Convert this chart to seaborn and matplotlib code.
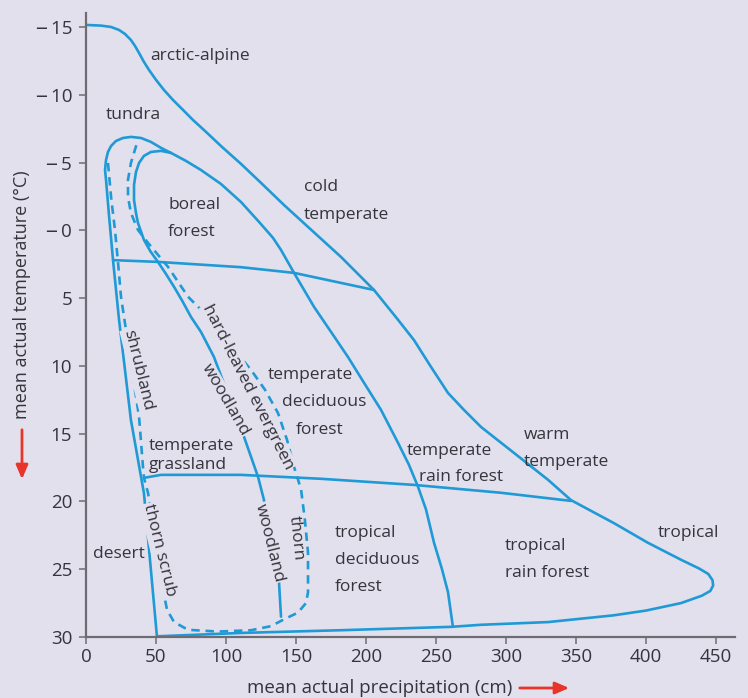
import matplotlib
matplotlib.use("Agg")
import matplotlib.pyplot as plt
import seaborn as sns
import pandas as pd

# ---------------- data ----------------
outer_x = [0, 10.7, 17.9, 23.6, 27.9, 32.1, 35, 37.9, 41.4, 45, 50, 55.7, 62.1, 69.3, 76.4,
           85, 96.4, 110.7, 125, 141.4, 158.6, 182.1, 205.7, 222.9, 234.3, 246.4, 258.6,
           270, 282.1, 305.7, 330, 346.4, 377.1, 401.4, 425, 438, 444.5, 447.5, 448, 446,
           440, 425, 400, 377, 330, 282, 261, 182, 111, 50.7]
outer_y = [-15.15, -15.1, -15.0, -14.78, -14.48, -14.04, -13.6, -13.08, -12.42, -11.83,
           -11.1, -10.35, -9.62, -8.88, -8.14, -7.33, -6.22, -4.9, -3.5, -1.87, -0.25, 1.96,
           4.4, 6.6, 8.1, 10.07, 12.0, 13.25, 14.5, 16.42, 18.4, 19.9, 21.6, 23.05, 24.3,
           24.95, 25.35, 25.8, 26.2, 26.6, 26.95, 27.5, 28.05, 28.4, 28.9, 29.1, 29.25, 29.5,
           29.7, 29.95]

tundra_x = [50.7, 41.4, 32.1, 23.6, 19.3, 16.4, 14.3, 13.6, 14.3, 15.7, 17.9, 21.4, 26.4,
            32.1, 39.3, 46.4, 53.6, 60.7, 71.4, 82.1, 96.4, 110.7, 123.6, 133.6, 139.3,
            148.6, 162.9, 175, 187.1, 198.6, 210.7, 222.9, 230.7, 237.1, 242.9, 248.6,
            254.3, 258.6, 262.1]
tundra_y = [30.0, 19.4, 14.0, 6.6, 2.2, -1.14, -3.72, -4.45, -5.19, -5.78, -6.22, -6.59,
            -6.81, -6.89, -6.81, -6.52, -6.08, -5.71, -5.12, -4.45, -3.42, -2.09, -0.62,
            0.56, 1.45, 3.14, 5.65, 7.49, 9.34, 11.25, 13.24, 15.68, 17.3, 18.9, 20.6, 23.05,
            25.0, 26.7, 29.25]

boreal_x = [60.7, 53.6, 46.4, 41.4, 37.9, 35.7, 34.3, 34.3, 35.7, 37.1, 41.4, 46, 51.4,
            57, 62.9, 69, 75, 82.1, 91.4, 102.1, 112.9, 122.9, 127.1, 132.1, 137.9, 139.3]
boreal_y = [-5.71, -5.86, -5.78, -5.49, -4.97, -4.3, -3.35, -2.24, -1.28, -0.55, 0.71,
            1.55, 2.33, 3.2, 4.17, 5.25, 6.39, 7.49, 9.34, 12.29, 15.24, 18.19, 19.88, 22.83,
            26.0, 28.5]

dashed_x = [15.7, 17.9, 20.7, 22.9, 25, 30.7, 35, 37.9, 40.7, 41.4, 44.3, 48.6, 52.1, 55,
            57.9, 62.9, 72.9, 94.3, 117.9, 132.1, 141.4, 151.4, 157.1, 158.6, 158.6, 156.4,
            153.6, 148.6, 143.6, 137.1, 127.9, 117.9, 100, 84.3, 72.9, 58.6, 44.3, 37.1,
            32.1, 30, 30, 32.1, 37.1]
dashed_y = [-4.97, -2.46, -0.03, 2.4, 4.9, 8.82, 11.77, 13.76, 17.45, 18.26, 19.37, 22.1,
            24.7, 26.5, 28.0, 28.9, 29.47, 29.6, 29.5, 29.2, 28.7, 28.2, 27.5, 26.7, 23.8,
            21.4, 19.1, 17.45, 15.46, 13.47, 11.77, 10.3, 8.08, 6.09, 4.9, 2.7, 0.93, -0.03,
            -1.28, -2.46, -3.72, -4.97, -6.67]

cold_x = [19.3, 51.4, 110.7, 148.6, 205.7]
cold_y = [2.2, 2.33, 2.72, 3.14, 4.4]

warm_x = [41.4, 53.6, 110.7, 167.9, 234.3, 296.4, 346.4]
warm_y = [18.26, 18.04, 18.04, 18.33, 18.78, 19.36, 19.96]

xticks = [0, 50, 100, 150, 200, 250, 300, 350, 400, 450]
yticks = [-15, -10, -5, 0, 5, 10, 15, 20, 25, 30]
ytick_labels = ["\u2012\u200915", "\u2012\u200910", "\u2012\u20095", "\u2012\u20090",
                "5", "10", "15", "20", "25", "30"]

# ---------------- style ----------------
BG = "#e2e0ec"
LINE = "#1f9ad6"
TXT = "#35343c"
AX = "#6d6c74"
RED = "#e8352b"

sns.set_theme(style="ticks")
plt.rcParams["font.family"] = ["Open Sans", "DejaVu Sans"]

fig = plt.figure(figsize=(7.48, 6.98), dpi=100, facecolor=BG)
ax = fig.add_axes([86 / 748, 61 / 698, 649 / 748, 624 / 698], facecolor=BG)


def draw(xs, ys, dashed=False):
    df = pd.DataFrame({"x": xs, "y": ys})
    sns.lineplot(data=df, x="x", y="y", sort=False, estimator=None, ax=ax,
                 color=LINE, lw=1.9, solid_capstyle="round", solid_joinstyle="round")
    ln = ax.lines[-1]
    if dashed:
        ln.set_dashes([3.2, 2.2])


draw(outer_x, outer_y)
draw(tundra_x, tundra_y)
draw(boreal_x, boreal_y)
draw(cold_x, cold_y)
draw(warm_x, warm_y)
draw(dashed_x, dashed_y, dashed=True)

ax.set_xlim(0, 463.6)
ax.set_ylim(30, -16.03)
ax.set_xticks(xticks)
ax.set_xticklabels([str(v) for v in xticks])
ax.set_yticks(yticks)
ax.set_yticklabels(ytick_labels)
for s in ["top", "right"]:
    ax.spines[s].set_visible(False)
for s in ["left", "bottom"]:
    ax.spines[s].set_color(AX)
    ax.spines[s].set_linewidth(1.6)
ax.tick_params(axis="both", direction="out", length=5, width=1.1, color=AX,
               labelsize=13.5, labelcolor=TXT)
ax.tick_params(axis="y", pad=5)
ax.tick_params(axis="x", pad=3)

ax.set_xlabel("mean actual precipitation (cm)", fontsize=13.5, color=TXT, va="center")
ax.set_ylabel("mean actual temperature (°C)", fontsize=13, color=TXT, va="center")
ax.xaxis.set_label_coords((380 - 86) / 649, (637 - 688) / 624)
ax.yaxis.set_label_coords((22 - 86) / 649, (637 - 295) / 624)

# red arrows
arrow = dict(arrowstyle="-|>,head_length=0.7,head_width=0.3", color=RED, lw=2)
ax.annotate("", xy=(572 / 748, 1 - 688 / 698), xytext=(517 / 748, 1 - 688 / 698),
            xycoords="figure fraction", textcoords="figure fraction", arrowprops=arrow)
ax.annotate("", xy=(22 / 748, 1 - 482 / 698), xytext=(22 / 748, 1 - 427 / 698),
            xycoords="figure fraction", textcoords="figure fraction", arrowprops=arrow)

FS = 12.5
box = dict(facecolor=BG, edgecolor="none", pad=0.5)


def lab(x, y, s, ha="left", rot=0, bbox=None):
    ax.text(x, y, s, ha=ha, va="center", fontsize=FS, color=TXT, rotation=rot,
            rotation_mode="anchor" if rot else "default", bbox=bbox)


lab(81.4, -12.86, "arctic-alpine", ha="center")
lab(33.6, -8.5, "tundra", ha="center")
lab(58.6, -1.87, "boreal")
lab(58.6, 0.12, "forest")
lab(155.7, -3.2, "cold")
lab(155.7, -1.14, "temperate")
lab(115.7, 11.55, "hard-leaved evergreen", ha="center", rot=-63, bbox=box)
lab(99.3, 12.5, "woodland", ha="center", rot=-60, bbox=box)
lab(37.1, 10.3, "shrubland", ha="center", rot=-76, bbox=box)
lab(45, 15.9, "temperate")
lab(45, 17.3, "grassland")
lab(52.1, 23.57, "thorn scrub", ha="center", rot=-76, bbox=box)
lab(23.6, 23.86, "desert", ha="center")
lab(130.7, 23.05, "woodland", ha="center", rot=-76, bbox=box)
lab(150, 22.7, "thorn", ha="center", rot=-84)
lab(160, 10.66, "temperate", ha="center")
lab(170, 12.65, "deciduous", ha="center")
lab(167.1, 14.7, "forest", ha="center")
lab(259.3, 16.27, "temperate", ha="center")
lab(267.9, 18.19, "rain forest", ha="center")
lab(312.9, 15.09, "warm")
lab(312.9, 17.08, "temperate")
lab(177.9, 22.3, "tropical")
lab(177.9, 24.3, "deciduous")
lab(177.9, 26.3, "forest")
lab(299.3, 23.27, "tropical")
lab(299.3, 25.27, "rain forest")
lab(408.6, 22.3, "tropical")

fig.savefig("out.png", dpi=100, facecolor=BG)
